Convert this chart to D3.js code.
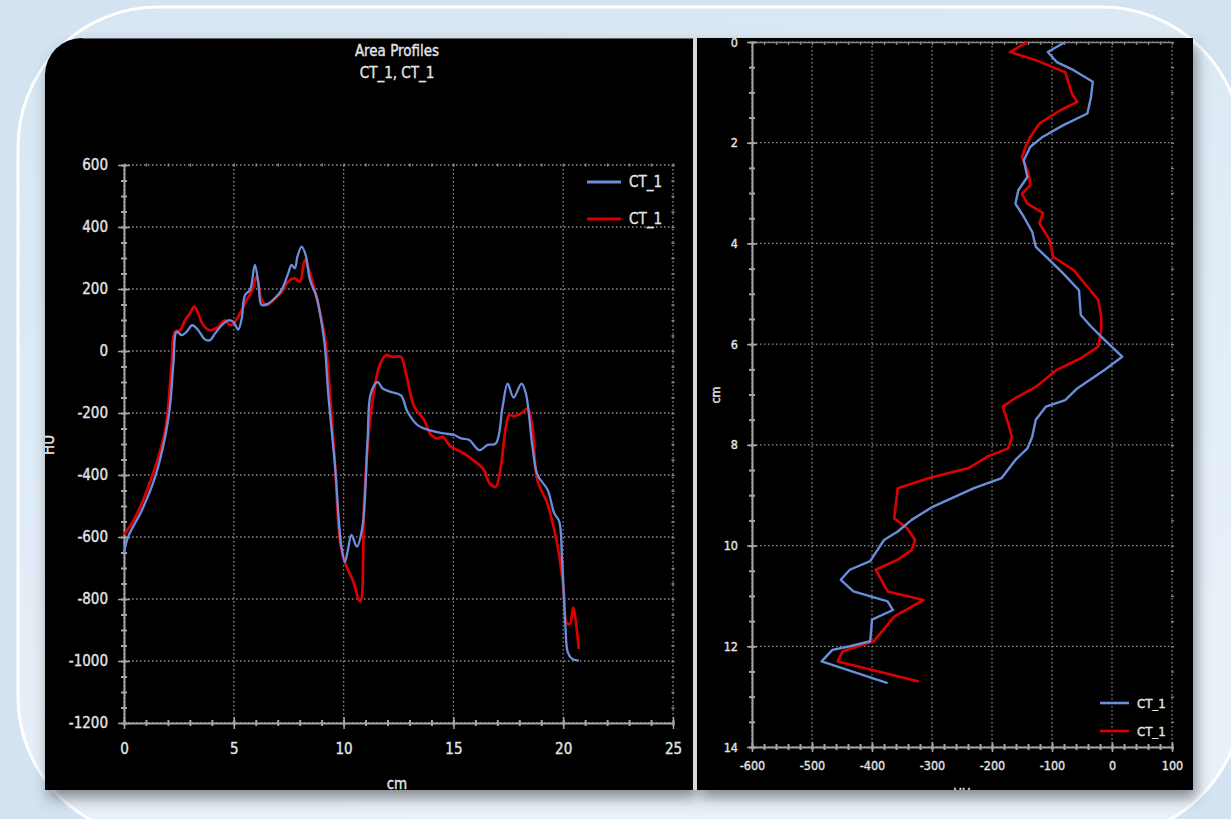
<!DOCTYPE html>
<html><head><meta charset="utf-8">
<script src="https://cdn.jsdelivr.net/npm/d3@7"></script>
<style>
html,body{margin:0;padding:0;overflow:hidden;background:#d4e4f1}
text{font-family:"DejaVu Sans Condensed","DejaVu Sans",sans-serif;fill:#e4e4e4;stroke:#e4e4e4;stroke-width:0.35px}
</style></head><body>
<svg id="c" width="1231" height="819"></svg>
<script>
// ---------- DATA ----------
const seriesNames = ["CT_1", "CT_1"];
const seriesColors = ["#6c8ddb", "#dd0000"];

// Left chart: area profile (x = cm, y = HU)
const leftBlueCm = [0,0.2,0.8,1.41,1.87,2.09,2.25,2.4,2.63,2.85,3.11,3.38,3.69,3.92,4.14,4.45,4.75,4.98,5.2,5.36,5.51,5.74,5.96,6.12,6.27,6.57,6.87,7.18,7.48,7.63,7.78,7.9,8.09,8.27,8.47,8.77,9.0,9.15,9.3,9.62,9.88,10.06,10.2,10.36,10.6,10.86,11.09,11.24,11.55,11.78,12.15,12.61,12.91,13.37,13.98,14.58,15.04,15.34,15.72,16.18,16.56,16.93,17.24,17.47,17.74,18.1,18.3,18.6,18.83,19.29,19.59,19.82,19.95,20.1,20.21,20.41,20.71];
const leftBlueHU = [-650,-597,-516,-408,-279,-181,-41,62,51,62,83,67,37,35,56,83,99,94,69,105,180,197,278,218,148,153,170,197,251,278,267,305,337,310,229,175,89,13,-138,-380,-620,-680,-640,-593,-631,-566,-287,-137,-100,-121,-132,-143,-196,-239,-257,-266,-271,-282,-287,-320,-303,-298,-180,-105,-150,-105,-137,-309,-400,-448,-523,-550,-673,-887,-972,-993,-999];

const leftRedCm = [0,0.5,1.26,1.87,2.17,2.32,2.55,2.78,3.0,3.2,3.38,3.61,3.92,4.29,4.6,4.83,5.05,5.28,5.58,5.81,6.04,6.27,6.5,6.87,7.18,7.48,7.78,8.01,8.24,8.47,8.7,9.15,9.38,9.6,9.85,10.1,10.41,10.76,10.94,11.24,11.62,11.93,12.23,12.61,12.84,13.22,13.67,13.98,14.28,14.51,14.89,15.34,15.8,16.4,16.56,16.71,16.93,17.16,17.39,17.54,17.77,18.07,18.38,18.6,18.82,19.27,19.57,19.8,20.03,20.15,20.3,20.46,20.56,20.71];
const leftRedHU = [-592,-538,-408,-257,-41,62,67,99,121,143,121,83,67,78,99,83,94,121,164,191,240,164,148,170,191,224,234,224,294,251,191,45,-138,-354,-620,-690,-738,-808,-480,-202,-51,-14,-19,-19,-73,-180,-223,-271,-282,-277,-309,-325,-346,-384,-416,-432,-438,-373,-245,-207,-210,-202,-186,-245,-416,-490,-570,-651,-780,-876,-881,-828,-865,-961];

// Right chart: depth profile (x = HU, y = cm)
const rightBlueHU = [-78,-107,-92,-64,-32,-35,-41,-81,-115,-136,-147,-141,-156,-161,-147,-133,-127,-104,-81,-55,-52,-35,-12,17,-12,-58,-78,-110,-127,-133,-141,-161,-184,-230,-299,-334,-357,-380,-391,-403,-437,-452,-431,-374,-365,-400,-403,-437,-466,-484,-374];
const rightBlueCm = [0,0.2,0.4,0.56,0.79,1.09,1.42,1.65,1.88,2.08,2.35,2.68,2.94,3.21,3.47,3.77,4.07,4.33,4.6,4.93,5.42,5.65,5.92,6.25,6.51,6.88,7.11,7.24,7.5,7.84,8.07,8.3,8.66,8.86,9.23,9.49,9.72,9.89,10.09,10.31,10.48,10.68,10.91,11.11,11.28,11.47,11.9,12.0,12.07,12.3,12.73];

const rightRedHU = [-141,-170,-127,-78,-67,-58,-87,-121,-136,-144,-150,-139,-136,-150,-141,-115,-121,-104,-98,-64,-41,-23,-18,-18,-23,-52,-92,-127,-161,-182,-173,-167,-173,-207,-239,-305,-357,-363,-342,-328,-334,-357,-394,-374,-314,-363,-397,-449,-457,-322];
const rightRedCm = [0,0.2,0.36,0.6,1.02,1.19,1.36,1.62,1.88,2.08,2.28,2.61,2.84,3.01,3.21,3.4,3.6,3.93,4.27,4.53,4.86,5.12,5.46,5.72,6.05,6.28,6.51,6.85,7.07,7.24,7.57,7.84,8.07,8.23,8.46,8.66,8.86,9.46,9.65,9.89,10.09,10.28,10.48,10.91,11.08,11.41,11.9,12.1,12.3,12.7];

// Tick labels
const leftXTicks = [0,5,10,15,20,25];
const leftYTicks = [600,400,200,0,-200,-400,-600,-800,-1000,-1200];
const rightXTicks = [-600,-500,-400,-300,-200,-100,0,100];
const rightYTicks = [0,2,4,6,8,10,12,14];

const titleLines = ["Area Profiles", "CT_1, CT_1"];

// ---------- DRAW ----------
const fmt = d => String(d);
const svg = d3.select("#c");
const defs = svg.append("defs");

const bgGrad = defs.append("linearGradient").attr("id","bgG").attr("x1",0).attr("y1",0).attr("x2",0.3).attr("y2",1);
bgGrad.append("stop").attr("offset","0").attr("stop-color","#d6e6f3");
bgGrad.append("stop").attr("offset","1").attr("stop-color","#e9f1f8");

const sh = defs.append("filter").attr("id","shadow").attr("x","-5%").attr("y","-5%").attr("width","115%").attr("height","115%");
sh.append("feDropShadow").attr("dx",3).attr("dy",8).attr("stdDeviation",7).attr("flood-color","#3f454d").attr("flood-opacity",0.6);

// background + frame
svg.append("rect").attr("width",1231).attr("height",819).attr("fill","#d3e3f1");
svg.append("rect").attr("x",18).attr("y",7).attr("width",1224).attr("height",830)
  .attr("rx",140).attr("ry",140).attr("fill","url(#bgG)").attr("stroke","#ffffff").attr("stroke-width",3);

// panels
const leftPanelPath = "M45,75 A37,37 0 0 1 82,38 L693,38 L693,790 L45,790 Z";
svg.append("path").attr("d",leftPanelPath).attr("fill","#000").attr("filter","url(#shadow)");
svg.append("rect").attr("x",697).attr("y",38).attr("width",496).attr("height",752).attr("fill","#000").attr("filter","url(#shadow)");
svg.append("rect").attr("x",693).attr("y",38).attr("width",4).attr("height",752).attr("fill","#d9d9d9");
svg.append("line").attr("x1",82).attr("x2",693).attr("y1",38.5).attr("y2",38.5).attr("stroke","#666").attr("stroke-width",1);

defs.append("clipPath").attr("id","clipL").append("path").attr("d",leftPanelPath);
defs.append("clipPath").attr("id","clipR").append("rect").attr("x",697).attr("y",38).attr("width",496).attr("height",752);

const axisColor = "#a6a6a6";
const gridColor = "#8f8f8f";

function styleAxis(g){
  g.select(".domain").attr("stroke",axisColor).attr("stroke-width",2);
  g.selectAll(".tick line").attr("stroke",axisColor).attr("stroke-width",1.5);
}
function styleText(g, size){
  g.selectAll(".tick text").attr("font-size",size).attr("fill","#e4e4e4")
   .attr("font-family","DejaVu Sans Condensed, DejaVu Sans, sans-serif");
}

// ===== LEFT CHART =====
const xL = d3.scaleLinear().domain([0,25]).range([124,673]);
const yL = d3.scaleLinear().domain([-1200,600]).range([723,165]);
const gL = svg.append("g").attr("clip-path","url(#clipL)");

// grid
gL.append("g").selectAll("line").data(leftXTicks).join("line")
  .attr("x1",d=>xL(d)).attr("x2",d=>xL(d)).attr("y1",yL(600)).attr("y2",yL(-1200))
  .attr("stroke",gridColor).attr("stroke-width",1.3).attr("stroke-dasharray","1.5,2.5");
gL.append("g").selectAll("line").data(leftYTicks).join("line")
  .attr("x1",xL(0)).attr("x2",xL(25)).attr("y1",d=>yL(d)).attr("y2",d=>yL(d))
  .attr("stroke",gridColor).attr("stroke-width",1.3).attr("stroke-dasharray","1.5,2.5");

// minor ticks mirrored on right and top edges
const leftXMinor = d3.range(0,25.001,1);
const leftYMinor = d3.range(-1200,600.001,50);
gL.append("g").call(d3.axisRight(yL).tickValues(leftYMinor).tickSize(3).tickFormat(""))
  .attr("transform",`translate(${xL(25)-1.5},0)`)
  .call(g=>{g.select(".domain").remove(); g.selectAll(".tick line").attr("stroke","#888").attr("stroke-width",1.5);});
gL.append("g").call(d3.axisBottom(xL).tickValues(leftXMinor).tickSize(3).tickFormat(""))
  .attr("transform",`translate(0,${yL(600)-1.5})`)
  .call(g=>{g.select(".domain").remove(); g.selectAll(".tick line").attr("stroke","#888").attr("stroke-width",1.5);});

// minor axis ticks (crossing)
gL.append("g").attr("transform",`translate(${xL(0)},0)`)
  .call(d3.axisLeft(yL).tickValues(leftYMinor).tickSize(3).tickFormat(""))
  .call(g=>{g.select(".domain").remove(); g.selectAll(".tick line").attr("x1",3).attr("x2",-3).attr("stroke",axisColor).attr("stroke-width",2);});
gL.append("g").attr("transform",`translate(0,${yL(-1200)})`)
  .call(d3.axisBottom(xL).tickValues(leftXMinor).tickSize(3).tickFormat(""))
  .call(g=>{g.select(".domain").remove(); g.selectAll(".tick line").attr("y1",-3).attr("y2",3).attr("stroke",axisColor).attr("stroke-width",2);});

// main axes
gL.append("g").attr("transform",`translate(${xL(0)},0)`)
  .call(d3.axisLeft(yL).tickValues(leftYTicks).tickFormat(fmt).tickSize(6).tickSizeOuter(0).tickPadding(10))
  .call(styleAxis)
  .call(g=>{g.selectAll(".tick line").attr("x1",6).attr("x2",-6); styleText(g,15);});
gL.append("g").attr("transform",`translate(0,${yL(-1200)})`)
  .call(d3.axisBottom(xL).tickValues(leftXTicks).tickFormat(fmt).tickSize(6).tickSizeOuter(0).tickPadding(14))
  .call(styleAxis)
  .call(g=>{g.selectAll(".tick line").attr("y1",-6).attr("y2",6); styleText(g,15);});

// lines
const lineL = d3.line().x(d=>xL(d[0])).y(d=>yL(d[1])).curve(d3.curveCatmullRom.alpha(0.5));
const blueL = leftBlueCm.map((c,i)=>[c,leftBlueHU[i]]);
const redL = leftRedCm.map((c,i)=>[c,leftRedHU[i]]);
gL.append("path").datum(redL).attr("d",lineL).attr("fill","none").attr("stroke",seriesColors[1]).attr("stroke-width",2.7).attr("stroke-linejoin","round");
gL.append("path").datum(blueL).attr("d",lineL).attr("fill","none").attr("stroke",seriesColors[0]).attr("stroke-width",2.3).attr("stroke-linejoin","round");

// titles
gL.selectAll("text.title").data(titleLines).join("text").attr("class","title")
  .attr("x",397).attr("y",(d,i)=>56+i*22).attr("text-anchor","middle").attr("font-size",15).text(d=>d);
gL.append("text").attr("x",397).attr("y",789).attr("text-anchor","middle").attr("font-size",15).text("cm");
gL.append("text").attr("transform","translate(54,445) rotate(-90)").attr("text-anchor","middle").attr("font-size",15).text("HU");

// legend
const legL = gL.append("g");
seriesNames.forEach((n,i)=>{
  const y = 182 + i*37;
  legL.append("line").attr("x1",587).attr("x2",621).attr("y1",y).attr("y2",y).attr("stroke",seriesColors[i]).attr("stroke-width",3);
  legL.append("text").attr("x",629).attr("y",y+5).attr("font-size",15).text(n);
});

// ===== RIGHT CHART =====
const xR = d3.scaleLinear().domain([-600,100]).range([752,1172]);
const yR = d3.scaleLinear().domain([0,14]).range([42,747]);
const gR = svg.append("g").attr("clip-path","url(#clipR)");

gR.append("g").selectAll("line").data(rightXTicks).join("line")
  .attr("x1",d=>xR(d)).attr("x2",d=>xR(d)).attr("y1",yR(0)).attr("y2",yR(14))
  .attr("stroke",gridColor).attr("stroke-width",1.2).attr("stroke-dasharray","1.5,2.5");
gR.append("g").selectAll("line").data(rightYTicks).join("line")
  .attr("x1",xR(-600)).attr("x2",xR(100)).attr("y1",d=>yR(d)).attr("y2",d=>yR(d))
  .attr("stroke",gridColor).attr("stroke-width",1.2).attr("stroke-dasharray","1.5,2.5");

const rightXMinor = d3.range(-600,100.001,20);
const rightYMinor = d3.range(0,14.001,0.5);
gR.append("g").attr("transform",`translate(${xR(100)-1},0)`)
  .call(d3.axisRight(yR).tickValues(rightYMinor).tickSize(3).tickFormat(""))
  .call(g=>{g.select(".domain").remove(); g.selectAll(".tick line").attr("stroke","#888").attr("stroke-width",1.3);});
gR.append("g").attr("transform",`translate(0,${yR(0)})`)
  .call(d3.axisBottom(xR).tickValues(rightXMinor).tickSize(3).tickSizeOuter(0).tickFormat(""))
  .call(g=>{g.select(".domain").attr("stroke","#888").attr("stroke-width",1.5); g.selectAll(".tick line").attr("stroke","#888").attr("stroke-width",1.3);});

gR.append("g").attr("transform",`translate(${xR(-600)},0)`)
  .call(d3.axisLeft(yR).tickValues(rightYMinor).tickSize(3).tickFormat(""))
  .call(g=>{g.select(".domain").remove(); g.selectAll(".tick line").attr("x1",3).attr("x2",-3).attr("stroke",axisColor).attr("stroke-width",2);});
gR.append("g").attr("transform",`translate(0,${yR(14)})`)
  .call(d3.axisBottom(xR).tickValues(rightXMinor).tickSize(3).tickFormat(""))
  .call(g=>{g.select(".domain").remove(); g.selectAll(".tick line").attr("y1",-3).attr("y2",3).attr("stroke",axisColor).attr("stroke-width",2);});

gR.append("g").attr("transform",`translate(${xR(-600)},0)`)
  .call(d3.axisLeft(yR).tickValues(rightYTicks).tickFormat(fmt).tickSize(5).tickSizeOuter(0).tickPadding(9))
  .call(styleAxis)
  .call(g=>{g.selectAll(".tick line").attr("x1",5).attr("x2",-5); styleText(g,12.5);});
gR.append("g").attr("transform",`translate(0,${yR(14)})`)
  .call(d3.axisBottom(xR).tickValues(rightXTicks).tickFormat(fmt).tickSize(5).tickSizeOuter(0).tickPadding(9))
  .call(styleAxis)
  .call(g=>{g.selectAll(".tick line").attr("y1",-5).attr("y2",5); styleText(g,12.5);});

const lineR = d3.line().x(d=>xR(d[0])).y(d=>yR(d[1]));
const blueR = rightBlueHU.map((h,i)=>[h,rightBlueCm[i]]);
const redR = rightRedHU.map((h,i)=>[h,rightRedCm[i]]);
gR.append("path").datum(redR).attr("d",lineR).attr("fill","none").attr("stroke",seriesColors[1]).attr("stroke-width",2.6).attr("stroke-linejoin","round");
gR.append("path").datum(blueR).attr("d",lineR).attr("fill","none").attr("stroke",seriesColors[0]).attr("stroke-width",2.4).attr("stroke-linejoin","round");

gR.append("text").attr("transform","translate(720,395) rotate(-90)").attr("text-anchor","middle").attr("font-size",12.5).text("cm");
gR.append("text").attr("x",962).attr("y",797).attr("text-anchor","middle").attr("font-size",13).text("HU");

const legR = gR.append("g");
seriesNames.forEach((n,i)=>{
  const y = 703 + i*28;
  legR.append("line").attr("x1",1100).attr("x2",1129).attr("y1",y).attr("y2",y).attr("stroke",seriesColors[i]).attr("stroke-width",2.6);
  legR.append("text").attr("x",1137).attr("y",y+4.5).attr("font-size",13).text(n);
});
</script>
</body></html>
